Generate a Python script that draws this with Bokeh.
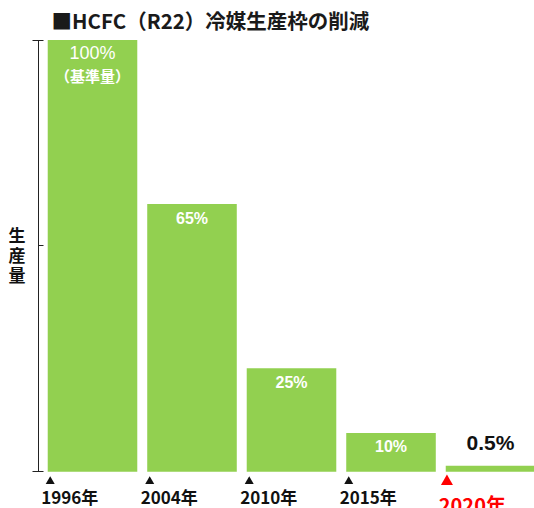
from bokeh.plotting import figure
from bokeh.models import Range1d, LinearAxis, FixedTicker, Label
from bokeh.embed import file_html
from bokeh.resources import INLINE
from bokeh.core.properties import value

# ---- data ----
title_text = "■HCFC（R22）冷媒生産枠の削減"
y_axis_title = "生\n産\n量"
years = ["1996年", "2004年", "2010年", "2015年", "2020年"]
heights = [100, 62, 24, 9, 1.4]          # drawn bar heights (% of base amount)
pct_labels = ["100%", "65%", "25%", "10%", "0.5%"]
base_note = "（基準量）"
axis_ticks = [0, 100]
axis_mid_tick = [52.5]

# ---- styles ----
GREEN = "#92D050"
CJK = "Noto Sans CJK JP"
LAT = "Liberation Sans"
BAR_W = 0.9

xs = list(range(len(years)))
lefts = [x - BAR_W / 2 for x in xs]

p = figure(width=534, height=508, output_backend="svg", toolbar_location=None,
           x_range=Range1d(-0.5427, 4.442), y_range=Range1d(-8.50, 109.15),
           x_axis_location=None, y_axis_location=None, min_border=0,
           outline_line_color=None, background_fill_color="white",
           border_fill_color="white")
p.min_border_left = 38
p.xgrid.visible = False
p.ygrid.visible = False

yax = LinearAxis(ticker=FixedTicker(ticks=axis_ticks, minor_ticks=axis_mid_tick),
                 bounds=(axis_ticks[0], axis_ticks[-1]))
yax.major_label_overrides = {t: "" for t in axis_ticks}
yax.major_label_text_font_size = "0px"
yax.major_label_standoff = 0
yax.major_tick_in = 5
yax.major_tick_out = 6
yax.minor_tick_in = 5
yax.minor_tick_out = 0
yax.axis_line_color = "#222222"
yax.major_tick_line_color = "#222222"
yax.minor_tick_line_color = "#222222"
yax.axis_label = y_axis_title
yax.axis_label_orientation = "horizontal"
yax.axis_label_standoff = 7
yax.axis_label_text_font = CJK
yax.axis_label_text_font_size = "17px"
yax.axis_label_text_font_style = "bold"
yax.axis_label_text_color = "#111111"
yax.axis_label_text_line_height = 0.8
p.add_layout(yax, "left")

# bars
p.vbar(x=xs, top=heights, bottom=0, width=BAR_W, fill_color=GREEN, line_color=None)

# value labels
p.text(x=xs[:1], y=heights[:1], text=pct_labels[:1], text_font=value(LAT),
       text_font_size="18px", text_color="white", text_align="center",
       text_baseline="alphabetic", y_offset=13)
p.text(x=xs[:1], y=heights[:1], text=[base_note], text_font=value(CJK),
       text_font_size="15px", text_font_style="bold", text_color="white",
       text_align="center", text_baseline="alphabetic", y_offset=35)
p.text(x=xs[1:4], y=heights[1:4], text=pct_labels[1:4], text_font=value(LAT),
       text_font_size="16px", text_font_style="bold", text_color="white",
       text_align="center", text_baseline="alphabetic", y_offset=14)
p.text(x=xs[4:], y=heights[4:], text=pct_labels[4:], text_font=value(LAT),
       text_font_size="21px", text_font_style="bold", text_color="#111111",
       text_align="center", text_baseline="alphabetic", y_offset=-23)

# year markers and labels
p.scatter(x=[l + 0.025 for l in lefts[:4]], y=[-2.25] * 4, marker="triangle",
          size=9, fill_color="#111111", line_color=None)
p.scatter(x=[l + 0.012 for l in lefts[4:]], y=[-2.25], marker="triangle",
          size=12, fill_color="#ff0000", line_color=None)
p.text(x=lefts[:4], y=[0] * 4, text=years[:4], text_font=value(CJK),
       text_font_size="17px", text_font_style="bold", text_color="#111111",
       text_align="left", text_baseline="alphabetic", x_offset=-6.5, y_offset=25)
p.text(x=lefts[4:], y=[0], text=years[4:], text_font=value(CJK),
       text_font_size="20px", text_font_style="bold", text_color="#ff0000",
       text_align="left", text_baseline="alphabetic", x_offset=-7, y_offset=33)

# title
p.add_layout(Label(x=13, y=489, x_units="screen", y_units="screen", text=title_text,
                   text_font=CJK, text_font_size="20.5px", text_font_style="bold",
                   text_color="#1a1a1a", text_align="left", text_baseline="middle"))

open("out.html", "w").write(file_html(p, INLINE))
